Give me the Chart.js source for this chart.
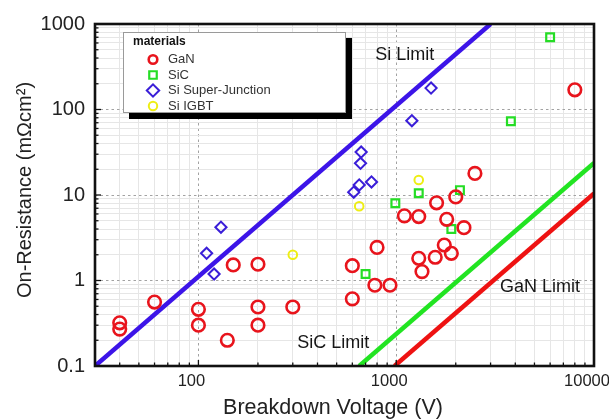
<!DOCTYPE html>
<html>
<head>
<meta charset="utf-8">
<title>On-Resistance vs Breakdown Voltage</title>
<script src="https://cdn.jsdelivr.net/npm/chart.js@4.4.1/dist/chart.umd.min.js"></script>
<style>
    html, body { margin: 0; padding: 0; background: #fff; }
    #wrap { width: 609px; height: 420px; }
</style>
</head>
<body>
<div id="wrap"><canvas id="rdsChart" width="609" height="420"></canvas></div>
<script>
// Breakdown voltage (V) and specific on-resistance (mOhm*cm2) per device
const ganVoltage = [40, 40, 60, 100, 100, 140, 150, 200, 200, 200, 300, 600, 600, 800, 780, 930, 1100, 1300, 1600, 2000, 2500, 1800, 2200, 1750, 1900, 1575, 1300, 1350, 8000];
const ganResistance = [0.32, 0.27, 0.56, 0.46, 0.30, 0.20, 1.52, 1.55, 0.49, 0.30, 0.49, 1.49, 0.61, 2.44, 0.88, 0.88, 5.7, 5.6, 8.1, 9.5, 17.9, 5.2, 4.15, 2.6, 2.08, 1.87, 1.82, 1.27, 170];

const sicVoltage = [700, 990, 1300, 2100, 1900, 3800, 6000];
const sicResistance = [1.19, 8.0, 10.5, 11.4, 4.0, 73, 700];

const sjVoltage = [110, 130, 120, 610, 650, 660, 665, 750, 1200, 1500];
const sjResistance = [2.08, 4.2, 1.19, 10.8, 13.1, 23.5, 31.8, 14.2, 74, 178];

const igbtVoltage = [300, 650, 1300];
const igbtResistance = [2.0, 7.4, 15];

// theoretical material limits, straight lines on log-log axes
const siLimitVoltage = [30, 3000];
const siLimitResistance = [0.1, 1000];
const sicLimitVoltage = [650, 10000];
const sicLimitResistance = [0.1, 23.7];
const ganLimitVoltage = [980, 10000];
const ganLimitResistance = [0.1, 10.4];

const limitLabels = ['Si Limit', 'SiC Limit', 'GaN Limit'];
const limitLabelVoltage = [784, 316, 3350];
const limitLabelResistance = [434, 0.184, 0.846];

const xTickValues = [100, 1000, 10000];
const xTickLabels = ['100', '1000', '10000'];
const yTickValues = [0.1, 1, 10, 100, 1000];
const yTickLabels = ['0.1', '1', '10', '100', '1000'];

const FONT = 'Arial, "Liberation Sans", Helvetica, sans-serif';

function toPoints(xs, ys) {
    return xs.map((x, i) => ({ x: x, y: ys[i] }));
}

function isDecade(v) {
    const l = Math.log10(v);
    return Math.abs(l - Math.round(l)) < 1e-6;
}

// 1..9 x 10^n ticks between min and max
function logTicks(min, max) {
    const ticks = [];
    for (let exp = Math.floor(Math.log10(min)); exp <= Math.ceil(Math.log10(max)); exp++) {
        for (let m = 1; m <= 9; m++) {
            const v = +(m * Math.pow(10, exp)).toPrecision(6);
            if (v >= min * 0.999999 && v <= max * 1.000001) ticks.push({ value: v, major: m === 1 });
        }
    }
    return ticks;
}

function tickLabel(values, labels) {
    return function (value) {
        const i = values.findIndex(t => Math.abs(t - value) / t < 1e-6);
        return i >= 0 ? labels[i] : '';
    };
}

function markerSet(label, xs, ys, color, style, radius, width) {
    return {
        label: label,
        data: toPoints(xs, ys),
        pointStyle: style,
        pointRadius: radius,
        pointBorderWidth: width,
        borderColor: color,
        backgroundColor: 'rgba(0,0,0,0)',
        showLine: false
    };
}

function limitLine(xs, ys, color) {
    return {
        label: '',
        data: toPoints(xs, ys),
        showLine: true,
        borderColor: color,
        borderWidth: 4.5,
        pointRadius: 0,
        fill: false
    };
}

const markers = [
    markerSet('GaN', ganVoltage, ganResistance, '#e8141c', 'circle', 6.3, 2.6),
    markerSet('SiC', sicVoltage, sicResistance, '#25dd25', 'rect', 5.5, 2.2),
    markerSet('Si Super-Junction', sjVoltage, sjResistance, '#3a1ed8', 'rectRot', 5.6, 2),
    markerSet('Si IGBT', igbtVoltage, igbtResistance, '#eeee14', 'circle', 4.3, 2)
];
const legendRadius = [4.3, 5.3, 6.2, 4.2];

const limits = [
    limitLine(siLimitVoltage, siLimitResistance, '#3c14e8'),
    limitLine(sicLimitVoltage, sicLimitResistance, '#22e422'),
    limitLine(ganLimitVoltage, ganLimitResistance, '#ee1212')
];

// frame, inward tick marks, limit captions, axis titles and the boxed legend
const decorPlugin = {
    id: 'decor',
    afterDraw(chart) {
        const { ctx, chartArea: a, scales } = chart;
        const xs = scales.x, ys = scales.y;
        ctx.save();

        ctx.strokeStyle = '#111';
        ctx.lineWidth = 1.3;
        xs.ticks.forEach(t => {
            const px = xs.getPixelForValue(t.value);
            const len = isDecade(t.value) ? 6 : 3.5;
            ctx.beginPath();
            ctx.moveTo(px, a.bottom);
            ctx.lineTo(px, a.bottom - len);
            ctx.stroke();
        });
        ys.ticks.forEach(t => {
            const py = ys.getPixelForValue(t.value);
            const len = isDecade(t.value) ? 6 : 3.5;
            ctx.beginPath();
            ctx.moveTo(a.left, py);
            ctx.lineTo(a.left + len, py);
            ctx.stroke();
        });

        ctx.lineWidth = 2.6;
        ctx.strokeRect(a.left, a.top, a.right - a.left, a.bottom - a.top);

        ctx.fillStyle = '#161616';
        ctx.font = `18px ${FONT}`;
        ctx.textAlign = 'left';
        ctx.textBaseline = 'middle';
        limitLabels.forEach((text, i) => {
            ctx.fillText(text, xs.getPixelForValue(limitLabelVoltage[i]), ys.getPixelForValue(limitLabelResistance[i]));
        });

        ctx.fillStyle = '#222';
        ctx.textAlign = 'center';
        ctx.font = `21.5px ${FONT}`;
        ctx.fillText('Breakdown Voltage (V)', 333, 408);
        ctx.translate(25, 190);
        ctx.rotate(-Math.PI / 2);
        ctx.font = `20px ${FONT}`;
        ctx.fillText('On-Resistance (mΩcm²)', 0, 0);
        ctx.restore();

        drawLegend(chart);
    }
};

function drawLegend(chart) {
    const { ctx, chartArea: a } = chart;
    const bx = a.left + 28, by = a.top + 8, bw = 223, bh = 81;
    ctx.save();
    ctx.fillStyle = '#000';
    ctx.fillRect(bx + 6, by + 6, bw, bh);
    ctx.fillStyle = '#fff';
    ctx.fillRect(bx, by, bw, bh);
    ctx.strokeStyle = '#9a9a9a';
    ctx.lineWidth = 1;
    ctx.strokeRect(bx + 0.5, by + 0.5, bw - 1, bh - 1);

    ctx.fillStyle = '#111';
    ctx.font = `bold 12px ${FONT}`;
    ctx.textAlign = 'left';
    ctx.textBaseline = 'middle';
    ctx.fillText('materials', bx + 10, by + 10);

    ctx.font = `13px ${FONT}`;
    markers.forEach((ds, i) => {
        const cy = by + 27.5 + i * 15.5;
        ctx.strokeStyle = ds.borderColor;
        ctx.fillStyle = 'rgba(0,0,0,0)';
        ctx.lineWidth = ds.pointBorderWidth;
        Chart.helpers.drawPoint(ctx, {
            pointStyle: ds.pointStyle,
            radius: legendRadius[i],
            rotation: 0,
            borderWidth: ds.pointBorderWidth
        }, bx + 30, cy);
        ctx.fillStyle = '#333';
        ctx.fillText(ds.label, bx + 45, cy);
    });
    ctx.restore();
}

new Chart(document.getElementById('rdsChart'), {
    type: 'scatter',
    data: { datasets: [...markers, ...limits] },
    options: {
        responsive: false,
        animation: false,
        events: [],
        layout: { padding: { top: 24, right: 15, left: 0, bottom: 0 } },
        plugins: {
            legend: { display: false },
            tooltip: { enabled: false }
        },
        scales: {
            x: {
                type: 'logarithmic',
                position: 'bottom',
                min: 30,
                max: 10000,
                afterBuildTicks: scale => { scale.ticks = logTicks(30, 10000); },
                afterFit: scale => {
                    scale.height = 54;
                    scale.paddingLeft = 0;
                    scale.paddingRight = 0;
                },
                grid: {
                    drawTicks: false,
                    lineWidth: 1,
                    color: ctx => ctx.tick && isDecade(ctx.tick.value) ? '#a2a2a2' : '#e6e6e6'
                },
                border: {
                    display: false,
                    dash: ctx => ctx.tick && isDecade(ctx.tick.value) ? [2.5, 3] : []
                },
                ticks: {
                    autoSkip: false,
                    maxRotation: 0,
                    padding: 6,
                    labelOffset: -7,
                    color: '#222',
                    font: { family: FONT, size: 16.5 },
                    callback: tickLabel(xTickValues, xTickLabels)
                }
            },
            y: {
                type: 'logarithmic',
                position: 'left',
                min: 0.1,
                max: 1000,
                afterBuildTicks: scale => { scale.ticks = logTicks(0.1, 1000); },
                afterFit: scale => {
                    scale.width = 95;
                    scale.paddingTop = 0;
                    scale.paddingBottom = 0;
                },
                grid: {
                    drawTicks: false,
                    lineWidth: 1,
                    color: ctx => ctx.tick && isDecade(ctx.tick.value) ? '#a2a2a2' : '#e6e6e6'
                },
                border: {
                    display: false,
                    dash: ctx => ctx.tick && isDecade(ctx.tick.value) ? [2.5, 3] : []
                },
                ticks: {
                    autoSkip: false,
                    padding: 10,
                    color: '#222',
                    font: { family: FONT, size: 20 },
                    callback: tickLabel(yTickValues, yTickLabels)
                }
            }
        }
    },
    plugins: [decorPlugin]
});
</script>
</body>
</html>
